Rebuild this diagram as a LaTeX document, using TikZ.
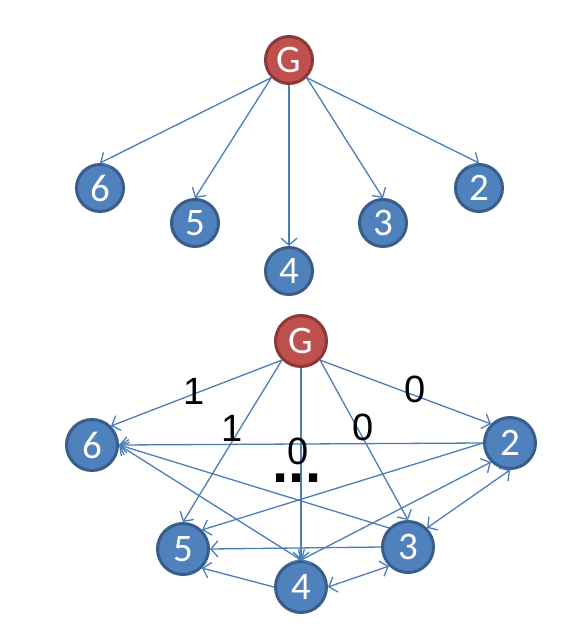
\documentclass[tikz,border=0pt]{standalone}
\usepackage{fontspec}
\setmainfont{Liberation Sans}
\newfontfamily\vertexfont{Carlito}
\usetikzlibrary{arrows.meta}
\definecolor{vertexblue}{HTML}{4F81BD}
\definecolor{vertexrim}{HTML}{385D8A}
\definecolor{goalred}{HTML}{C0504D}
\definecolor{goalrim}{HTML}{8C3836}
\definecolor{linkblue}{HTML}{4A7EBB}

\begin{document}
\begin{tikzpicture}[
  x=1pt, y=-1pt,
  vertex/.style={circle, draw=vertexrim, fill=vertexblue, line width=3pt, minimum size=47pt, inner sep=0pt, text=white, font=\vertexfont\fontsize{39}{39}\selectfont},
  goal/.style={vertex, draw=goalrim, fill=goalred},
  big/.style={minimum size=51pt},
  arrow/.style={-{Straight Barb[length=7pt,width=16pt]}, draw=linkblue, line width=1.3pt},
  twoway/.style={arrow, {Straight Barb[length=7pt,width=16pt]}-{Straight Barb[length=7pt,width=16pt]}},
  weight/.style={inner sep=0pt, font=\fontsize{38}{38}\selectfont},
  more/.style={inner sep=0pt, font=\bfseries\fontsize{58}{58}\selectfont}
]
\useasboundingbox (0,0) rectangle (580,637);
\node[goal] (g) at (289,60) {G};
\node[vertex] (a6) at (100,188) {6};
\node[vertex] (a5) at (195,223) {5};
\node[vertex] (a4) at (289,271) {4};
\node[vertex] (a3) at (383,223) {3};
\node[vertex] (a2) at (479,188) {2};
\draw[arrow] (g.south west) -- (a6.north);
\draw[arrow] (g.south west) -- (a5.north);
\draw[arrow] (g.south) -- (a4.north);
\draw[arrow] (g.south east) -- (a3.north);
\draw[arrow] (g.south east) -- (a2.north);

\node[goal, big] (h) at (301,341) {G};
\node[vertex, big] (b6) at (92,445) {6};
\node[vertex, big] (b2) at (510,443) {2};
\node[vertex, big] (b5) at (183,549) {5};
\node[vertex, big] (b3) at (408,547) {3};
\node[vertex, big] (b4) at (301,587) {4};
\draw[arrow] (h.south west) -- (b6.north east);
\draw[arrow] (h.south west) -- (b5.north);
\draw[arrow] (h.south) -- (b4.north);
\draw[arrow] (h.south east) -- (b3.north);
\draw[arrow] (h.south east) -- (b2.north west);
\draw[arrow] (b2.west) -- (b6.east);
\draw[arrow] (b2.west) -- (b5.north east);
\draw[arrow] (b3.north west) -- (b6.east);
\draw[twoway] (b4.north) -- (b6.east);
\draw[twoway] (b2.south west) -- (b4.north);
\draw[twoway] (b3.north east) -- (b2.south);
\draw[arrow] (b3.west) -- (b5.east);
\draw[arrow] (b4.west) -- (b5.south east);
\draw[twoway] (b3.south west) -- (b4.east);

\node[weight] (w6) at (194,391) {1};
\node[weight] (w5) at (232,428) {1};
\node[weight] (w4) at (298,451) {0};
\node[weight] (w3) at (363,427) {0};
\node[weight] (w2) at (415,389) {0};
\node[more] (dots) at (297,478) {...};
\end{tikzpicture}
\end{document}
